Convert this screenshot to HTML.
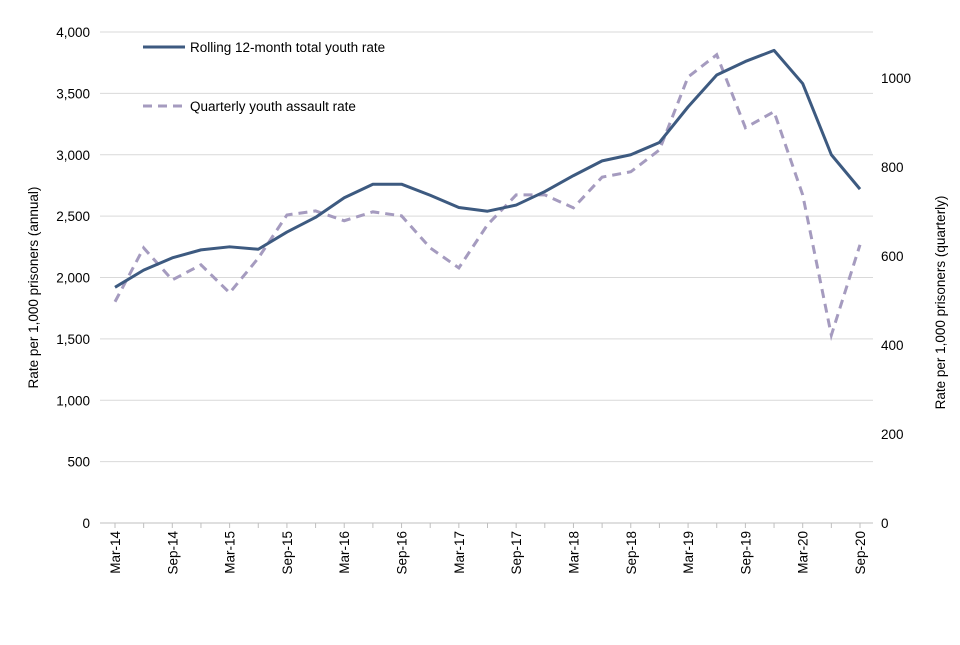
<!DOCTYPE html>
<html><head><meta charset="utf-8"><style>
body{margin:0;background:#fff;font-family:"Liberation Sans",Arial,sans-serif;}
svg text{font-family:"Liberation Sans",Arial,sans-serif;font-size:13.5px;fill:#000;}
</style></head><body>
<svg id="chart" width="960" height="640" xmlns="http://www.w3.org/2000/svg"></svg>
<script>
const categories=["Mar-14","Jun-14","Sep-14","Dec-14","Mar-15","Jun-15","Sep-15","Dec-15","Mar-16","Jun-16","Sep-16","Dec-16","Mar-17","Jun-17","Sep-17","Dec-17","Mar-18","Jun-18","Sep-18","Dec-18","Mar-19","Jun-19","Sep-19","Dec-19","Mar-20","Jun-20","Sep-20"];
const rollingValues=[1920,2060,2160,2225,2250,2230,2370,2490,2650,2760,2760,2670,2570,2540,2590,2700,2830,2950,3000,3100,3390,3650,3760,3850,3580,3000,2720];
const quarterlyValues=[497,618,546,580,517,595,692,701,679,699,690,618,573,670,737,737,708,777,789,838,1002,1052,888,924,737,422,625];
const leftTicks=[0,500,1000,1500,2000,2500,3000,3500,4000];
const rightTicks=[0,200,400,600,800,1000];
const ns="http://www.w3.org/2000/svg";
const svg=document.getElementById('chart');
const L=100,R=873,T=32,B=523;
const leftMax=4000,rightMax=1103;
const x=i=>115+i*(860-115)/(categories.length-1);
const yL=v=>B-(v/leftMax)*(B-T);
const yR=v=>B-(v/rightMax)*(B-T);
function mk(tag,attrs,parent){const e=document.createElementNS(ns,tag);for(const k in attrs)e.setAttribute(k,attrs[k]);(parent||svg).appendChild(e);return e;}
leftTicks.forEach(v=>{
  const g=mk('line',{x1:L,x2:R,y1:yL(v),y2:yL(v),stroke:v===0?'#bfbfbf':'#d9d9d9','stroke-width':1});
  
  
  const t=mk('text',{x:L-10,y:yL(v)+5,'text-anchor':'end'});t.textContent=v.toLocaleString('en-GB');
  
  
});
rightTicks.forEach(v=>{
  const t=mk('text',{x:R+8,y:yR(v)+5,'text-anchor':'start'});t.textContent=v;
  
  
});
categories.forEach((c,i)=>{
  const tk=mk('line',{x1:x(i),x2:x(i),y1:B,y2:B+5,stroke:'#bfbfbf'});
  
  
  if(i%2===0){
    const t=mk('text',{transform:`translate(${x(i)+5},${B+8}) rotate(-90)`,'text-anchor':'end'});t.textContent=c;
    
    
  }
});
const yt=mk('text',{transform:`translate(38,${(T+B)/2+10}) rotate(-90)`,'text-anchor':'middle'});yt.textContent='Rate per 1,000 prisoners (annual)';


const yt2=mk('text',{transform:`translate(945,${(T+B)/2+25}) rotate(-90)`,'text-anchor':'middle'});yt2.textContent='Rate per 1,000 prisoners (quarterly)';


const q=mk('polyline',{points:quarterlyValues.map((v,i)=>x(i)+','+yR(v)).join(' '),fill:'none',stroke:'#a59bbf','stroke-width':3,'stroke-dasharray':'9,6'});


const r=mk('polyline',{points:rollingValues.map((v,i)=>x(i)+','+yL(v)).join(' '),fill:'none',stroke:'#3d5a80','stroke-width':3,'stroke-linejoin':'round'});


const l1=mk('line',{x1:143,x2:185,y1:47,y2:47,stroke:'#3d5a80','stroke-width':3});


const t1=mk('text',{x:190,y:52});t1.textContent='Rolling 12-month total youth rate';


const l2=mk('line',{x1:143,x2:185,y1:106,y2:106,stroke:'#a59bbf','stroke-width':3,'stroke-dasharray':'9,6'});


const t2=mk('text',{x:190,y:111});t2.textContent='Quarterly youth assault rate';


</script>
</body></html>
